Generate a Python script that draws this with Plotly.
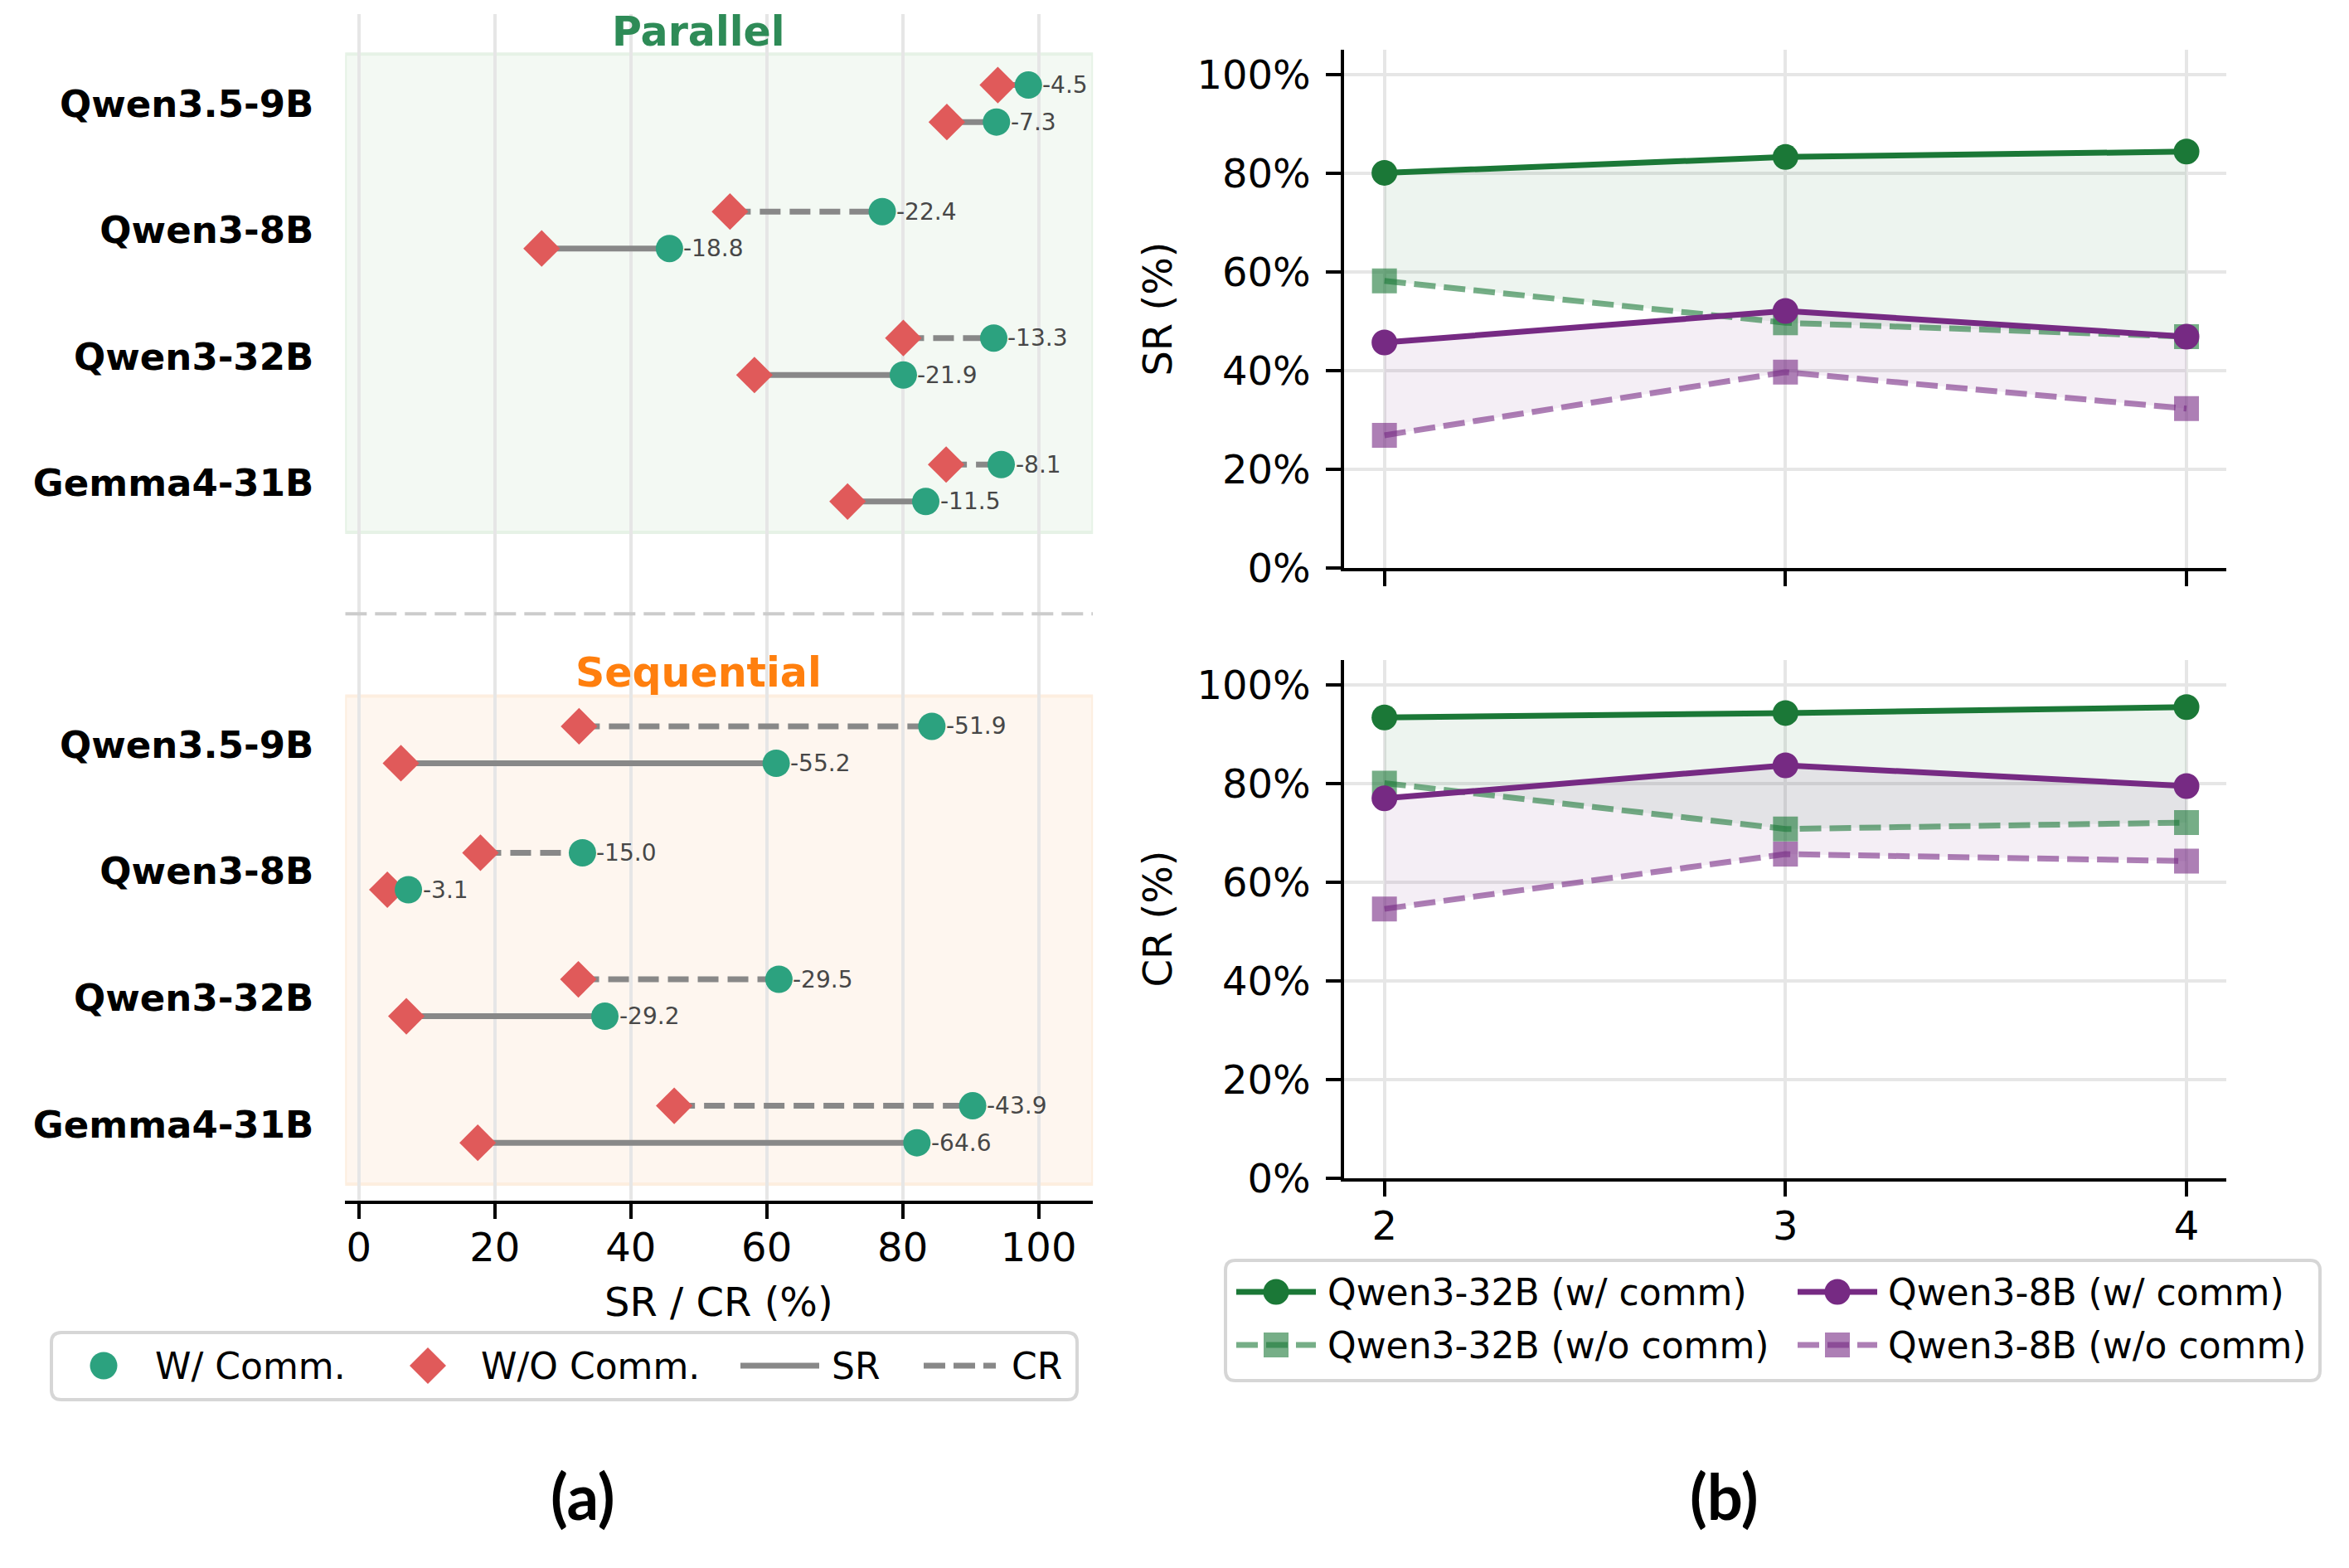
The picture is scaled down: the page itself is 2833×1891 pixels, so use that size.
import plotly.graph_objects as go

# ---------------- data ----------------
models = ["Qwen3.5-9B", "Qwen3-8B", "Qwen3-32B", "Gemma4-31B"]

# (a) Parallel
par_sr_w = [93.8, 45.7, 80.1, 83.4]
par_sr_wo = [86.5, 26.9, 58.2, 71.9]
par_sr_delta = [-7.3, -18.8, -21.9, -11.5]
par_cr_w = [98.5, 77.0, 93.4, 94.5]
par_cr_wo = [94.0, 54.6, 80.1, 86.4]
par_cr_delta = [-4.5, -22.4, -13.3, -8.1]

# (a) Sequential
seq_sr_w = [61.4, 7.3, 36.2, 82.1]
seq_sr_wo = [6.2, 4.2, 7.0, 17.5]
seq_sr_delta = [-55.2, -3.1, -29.2, -64.6]
seq_cr_w = [84.3, 32.9, 61.8, 90.3]
seq_cr_wo = [32.4, 17.9, 32.3, 46.4]
seq_cr_delta = [-51.9, -15.0, -29.5, -43.9]

# (b) scaling with number of agents
agents = [2, 3, 4]
sr_32b_w = [80.1, 83.3, 84.4]
sr_32b_wo = [58.2, 49.7, 46.9]
sr_8b_w = [45.7, 52.1, 46.9]
sr_8b_wo = [26.9, 39.7, 32.3]
cr_32b_w = [93.4, 94.3, 95.5]
cr_32b_wo = [80.1, 70.8, 72.1]
cr_8b_w = [77.0, 83.7, 79.5]
cr_8b_wo = [54.6, 65.7, 64.3]

x_ticks_a = [0, 20, 40, 60, 80, 100]
y_ticks_b = [0, 20, 40, 60, 80, 100]
y_ticktext_b = ["0%", "20%", "40%", "60%", "80%", "100%"]

# ---------------- style ----------------
W, H = 2833, 1891
FONT = "DejaVu Sans"
TEAL = "#2ca27f"
RED = "#e05a5a"
GREY = "#888888"
GREEN = "#1b7837"
PURPLE = "#762a83"
GREEN_A = "rgba(27,120,55,0.6)"
PURPLE_A = "rgba(118,42,131,0.6)"
GRID = "#e6e6e6"
LW_B = 7


def pxx(x):
    return x / W


def pxy(y):
    return 1 - y / H


GAP = 5.069
OFF = 0.146
par_pos = [i for i in range(len(models))]
seq_pos = [GAP + i for i in range(len(models))]

fig = go.Figure()

# ---------------- panel (a) ----------------
sections = [
    (par_pos, par_sr_w, par_sr_wo, par_sr_delta, par_cr_w, par_cr_wo, par_cr_delta),
    (seq_pos, seq_sr_w, seq_sr_wo, seq_sr_delta, seq_cr_w, seq_cr_wo, seq_cr_delta),
]
sr_x, sr_y, cr_x, cr_y = [], [], [], []
w_x, w_y, wo_x, wo_y = [], [], [], []
labels = []
for pos, srw, srwo, srd, crw, crwo, crd in sections:
    for i, p in enumerate(pos):
        ysr, ycr = p + OFF, p - OFF
        sr_x += [srwo[i], srw[i], None]
        sr_y += [ysr, ysr, None]
        cr_x += [crwo[i], crw[i], None]
        cr_y += [ycr, ycr, None]
        wo_x += [crwo[i], srwo[i]]
        wo_y += [ycr, ysr]
        w_x += [crw[i], srw[i]]
        w_y += [ycr, ysr]
        labels.append((crw[i], ycr, crd[i]))
        labels.append((srw[i], ysr, srd[i]))

fig.add_trace(go.Scatter(x=sr_x, y=sr_y, mode="lines", line=dict(color=GREY, width=7),
                         xaxis="x", yaxis="y", hoverinfo="skip"))
fig.add_trace(go.Scatter(x=cr_x, y=cr_y, mode="lines",
                         line=dict(color=GREY, width=7, dash="25px,11px"),
                         xaxis="x", yaxis="y", hoverinfo="skip"))
fig.add_trace(go.Scatter(x=wo_x, y=wo_y, mode="markers",
                         marker=dict(symbol="diamond", size=34, color=RED, line=dict(width=0)),
                         xaxis="x", yaxis="y"))
fig.add_trace(go.Scatter(x=w_x, y=w_y, mode="markers",
                         marker=dict(symbol="circle", size=33, color=TEAL, line=dict(width=0)),
                         xaxis="x", yaxis="y"))

annotations = []
for xv, yv, d in labels:
    annotations.append(dict(x=xv, y=yv, xref="x", yref="y", text=f"{d:.1f}", showarrow=False,
                            xanchor="left", yanchor="middle", xshift=15,
                            font=dict(size=28, color="#474747", family=FONT)))

annotations.append(dict(x=50, y=-0.564, xref="x", yref="y", text="Parallel", showarrow=False,
                        xanchor="center", yanchor="middle",
                        font=dict(size=49, color="#2e8b57", family=FONT, weight="bold")))
annotations.append(dict(x=50, y=4.50, xref="x", yref="y", text="Sequential", showarrow=False,
                        xanchor="center", yanchor="middle",
                        font=dict(size=49, color="#ff7f0e", family=FONT, weight="bold")))

shapes = []
shapes.append(dict(type="rect", xref="x", yref="y", x0=-2, x1=108, y0=-0.39, y1=par_pos[-1] + 0.39,
                   fillcolor="#f3f9f3", line=dict(color="#e6f2e6", width=4), layer="below"))
shapes.append(dict(type="rect", xref="x", yref="y", x0=-2, x1=108, y0=seq_pos[0] - 0.385,
                   y1=seq_pos[-1] + 0.473,
                   fillcolor="#fef6ef", line=dict(color="#fdeedf", width=4), layer="below"))
mid = (par_pos[-1] + seq_pos[0]) / 2
shapes.append(dict(type="line", xref="x", yref="y", x0=-2, x1=108, y0=mid, y1=mid,
                   line=dict(color="#cccccc", width=4, dash="26px,10px")))


# ---------------- panel (b) ----------------
def add_panel(xa, ya, w32, wo32, w8, wo8):
    fig.add_trace(go.Scatter(x=agents + agents[::-1], y=w32 + wo32[::-1], fill="toself",
                             fillcolor="rgba(27,120,55,0.08)", line=dict(width=0), mode="lines",
                             xaxis=xa, yaxis=ya, hoverinfo="skip"))
    fig.add_trace(go.Scatter(x=agents + agents[::-1], y=w8 + wo8[::-1], fill="toself",
                             fillcolor="rgba(118,42,131,0.08)", line=dict(width=0), mode="lines",
                             xaxis=xa, yaxis=ya, hoverinfo="skip"))
    fig.add_trace(go.Scatter(x=agents, y=w32, mode="lines+markers", name="Qwen3-32B (w/ comm)",
                             line=dict(color=GREEN, width=LW_B),
                             marker=dict(symbol="circle", size=31, color=GREEN),
                             xaxis=xa, yaxis=ya))
    fig.add_trace(go.Scatter(x=agents, y=wo32, mode="lines+markers", name="Qwen3-32B (w/o comm)",
                             line=dict(color=GREEN_A, width=LW_B, dash="26px,10px"),
                             marker=dict(symbol="square", size=30, color=GREEN_A),
                             xaxis=xa, yaxis=ya))
    fig.add_trace(go.Scatter(x=agents, y=w8, mode="lines+markers", name="Qwen3-8B (w/ comm)",
                             line=dict(color=PURPLE, width=LW_B),
                             marker=dict(symbol="circle", size=31, color=PURPLE),
                             xaxis=xa, yaxis=ya))
    fig.add_trace(go.Scatter(x=agents, y=wo8, mode="lines+markers", name="Qwen3-8B (w/o comm)",
                             line=dict(color=PURPLE_A, width=LW_B, dash="26px,10px"),
                             marker=dict(symbol="square", size=30, color=PURPLE_A),
                             xaxis=xa, yaxis=ya))


add_panel("x2", "y2", sr_32b_w, sr_32b_wo, sr_8b_w, sr_8b_wo)
add_panel("x3", "y3", cr_32b_w, cr_32b_wo, cr_8b_w, cr_8b_wo)

# axis titles and panel labels
annotations.append(dict(x=pxx(867), y=pxy(1570), xref="paper", yref="paper", text="SR / CR (%)",
                        showarrow=False, xanchor="center", yanchor="middle",
                        font=dict(size=48, family=FONT, color="black")))
annotations.append(dict(x=pxx(1396), y=pxy(372.6), xref="paper", yref="paper", text="SR (%)",
                        textangle=-90, showarrow=False, xanchor="center", yanchor="middle",
                        font=dict(size=48, family=FONT, color="black")))
annotations.append(dict(x=pxx(1396), y=pxy(1108.6), xref="paper", yref="paper", text="CR (%)",
                        textangle=-90, showarrow=False, xanchor="center", yanchor="middle",
                        font=dict(size=48, family=FONT, color="black")))
annotations.append(dict(x=pxx(703), y=pxy(1803), xref="paper", yref="paper", text="(a)",
                        showarrow=False, xanchor="center", yanchor="middle",
                        font=dict(size=76, family="Lato", color="black", weight="bold")))
annotations.append(dict(x=pxx(2079), y=pxy(1803), xref="paper", yref="paper", text="(b)",
                        showarrow=False, xanchor="center", yanchor="middle",
                        font=dict(size=76, family="Lato", color="black", weight="bold")))


# ---------------- legends (drawn as keys + text) ----------------
def rrect(x0, y0, x1, y1, r):
    pts = [
        f"M {pxx(x0 + r)},{pxy(y0)}", f"L {pxx(x1 - r)},{pxy(y0)}",
        f"Q {pxx(x1)},{pxy(y0)} {pxx(x1)},{pxy(y0 + r)}", f"L {pxx(x1)},{pxy(y1 - r)}",
        f"Q {pxx(x1)},{pxy(y1)} {pxx(x1 - r)},{pxy(y1)}", f"L {pxx(x0 + r)},{pxy(y1)}",
        f"Q {pxx(x0)},{pxy(y1)} {pxx(x0)},{pxy(y1 - r)}", f"L {pxx(x0)},{pxy(y0 + r)}",
        f"Q {pxx(x0)},{pxy(y0)} {pxx(x0 + r)},{pxy(y0)}", "Z",
    ]
    return dict(type="path", xref="paper", yref="paper", path=" ".join(pts),
                fillcolor="white", line=dict(color="#d6d6d6", width=4), layer="above")


def circ(cx, cy, d, color):
    r = d / 2
    return dict(type="circle", xref="paper", yref="paper", xsizemode="pixel", ysizemode="pixel",
                xanchor=pxx(cx), yanchor=pxy(cy), x0=-r, x1=r, y0=-r, y1=r,
                fillcolor=color, line=dict(width=0), layer="above")


def sq(cx, cy, d, color):
    r = d / 2
    return dict(type="rect", xref="paper", yref="paper", xsizemode="pixel", ysizemode="pixel",
                xanchor=pxx(cx), yanchor=pxy(cy), x0=-r, x1=r, y0=-r, y1=r,
                fillcolor=color, line=dict(width=0), layer="above")


def diam(cx, cy, r, color):
    return dict(type="path", xref="paper", yref="paper", xsizemode="pixel", ysizemode="pixel",
                xanchor=pxx(cx), yanchor=pxy(cy), path=f"M {-r},0 L 0,{r} L {r},0 L 0,{-r} Z",
                fillcolor=color, line=dict(width=0), layer="above")


def seg(xa, xb, y, color, width, dash="solid"):
    return dict(type="line", xref="paper", yref="paper", x0=pxx(xa), x1=pxx(xb), y0=pxy(y), y1=pxy(y),
                line=dict(color=color, width=width, dash=dash), layer="above")


def ltext(x, y, t):
    return dict(x=pxx(x), y=pxy(y), xref="paper", yref="paper", text=t, showarrow=False,
                xanchor="left", yanchor="middle", font=dict(size=44, family=FONT, color="black"))


# legend (a)
LY = 1647
shapes.append(rrect(62, 1607, 1299, 1688, 12))
shapes.append(circ(125, LY, 33, TEAL))
annotations.append(ltext(185, LY, "W/ Comm."))
shapes.append(diam(516, LY, 22, RED))
annotations.append(ltext(578, LY, "W/O Comm."))
shapes.append(seg(893, 988, LY, GREY, 7))
annotations.append(ltext(1001, LY, "SR"))
shapes.append(seg(1114, 1201, LY, GREY, 7, "26px,10px"))
annotations.append(ltext(1218, LY, "CR"))

# legend (b)
R1, R2 = 1558, 1622
shapes.append(rrect(1478, 1520, 2798, 1665, 12))
for (x0, x1, cx, tx, col, cola, n1, n2) in [
    (1491, 1587, 1539, 1599, GREEN, GREEN_A, "Qwen3-32B (w/ comm)", "Qwen3-32B (w/o comm)"),
    (2168, 2264, 2216, 2275, PURPLE, PURPLE_A, "Qwen3-8B (w/ comm)", "Qwen3-8B (w/o comm)"),
]:
    shapes.append(seg(x0, x1, R1, col, LW_B))
    shapes.append(circ(cx, R1, 31, col))
    annotations.append(ltext(tx, R1, n1))
    shapes.append(seg(x0, x1, R2, cola, LW_B, "26px,10px"))
    shapes.append(sq(cx, R2, 30, cola))
    annotations.append(ltext(tx, R2, n2))

# ---------------- axes ----------------
common_tick = dict(ticks="outside", ticklen=18, tickwidth=4, tickcolor="black",
                   showline=True, linecolor="black", linewidth=4, zeroline=False,
                   automargin=False)

fig.update_layout(
    width=W, height=H, autosize=False,
    margin=dict(l=0, r=0, t=0, b=0, pad=0, autoexpand=False),
    paper_bgcolor="white", plot_bgcolor="white", showlegend=False,
    font=dict(family=FONT, color="black"),
    xaxis=dict(domain=[416.3 / W, 1318.2 / W], range=[-2, 108], anchor="y", tickvals=x_ticks_a,
               showgrid=True, gridcolor=GRID, gridwidth=4, tickfont=dict(size=48),
               ticklabelstandoff=-6, **common_tick),
    yaxis=dict(domain=[1 - 1447.7 / H, 1 - 17 / H], range=[8.671, -0.707], anchor="x",
               tickvals=par_pos + seq_pos, ticktext=models + models,
               tickfont=dict(size=45, weight="bold"), showgrid=False, zeroline=False,
               showline=False, ticks="", ticklabelstandoff=37, automargin=False),
    xaxis2=dict(domain=[1621.3 / W, 2685.4 / W], range=[1.9, 4.1], anchor="y2", tickvals=agents,
                showticklabels=False, showgrid=True, gridcolor=GRID, gridwidth=4, **common_tick),
    yaxis2=dict(domain=[1 - 685 / H, 1 - 60.25 / H], range=[0, 105], anchor="x2",
                tickvals=y_ticks_b, ticktext=y_ticktext_b, showgrid=True, gridcolor=GRID,
                gridwidth=4, tickfont=dict(size=48), ticklabelstandoff=9, **common_tick),
    xaxis3=dict(domain=[1621.3 / W, 2685.4 / W], range=[1.9, 4.1], anchor="y3", tickvals=agents,
                showgrid=True, gridcolor=GRID, gridwidth=4, tickfont=dict(size=48),
                ticklabelstandoff=-6, **common_tick),
    yaxis3=dict(domain=[1 - 1421 / H, 1 - 796.25 / H], range=[0, 105], anchor="x3",
                tickvals=y_ticks_b, ticktext=y_ticktext_b, showgrid=True, gridcolor=GRID,
                gridwidth=4, tickfont=dict(size=48), ticklabelstandoff=9, **common_tick),
    annotations=annotations,
    shapes=shapes,
)

fig.write_html("out.html")
